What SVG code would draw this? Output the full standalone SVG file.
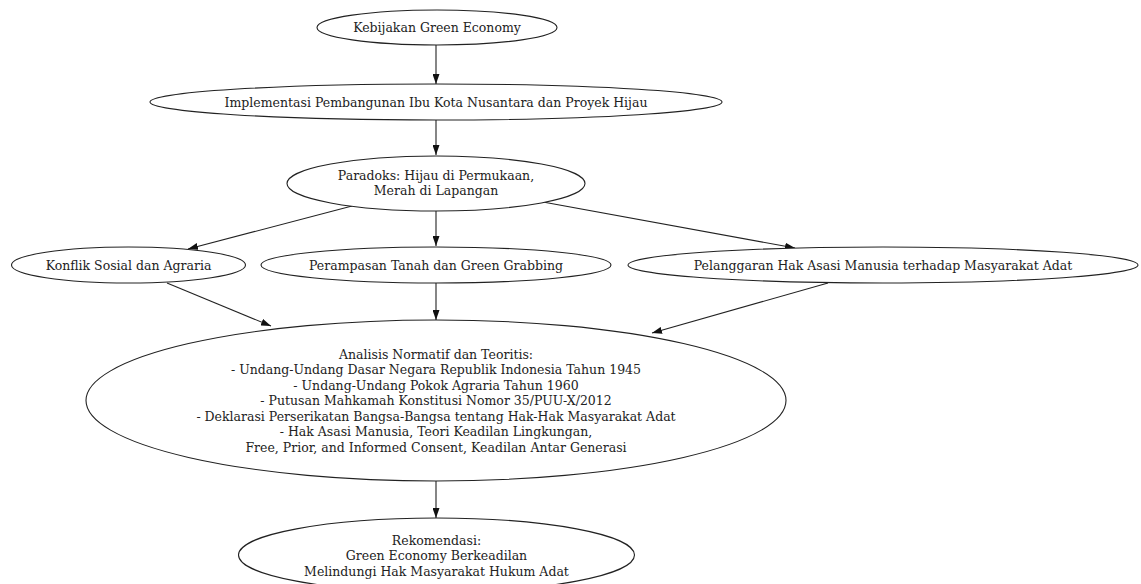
<svg xmlns="http://www.w3.org/2000/svg" width="1141" height="584" viewBox="0 0 1141 584">
<defs>
<style>
.n ellipse{fill:#fff;stroke:#222;stroke-width:1.1}
.n text{font-family:"DejaVu Serif","Liberation Serif",serif;font-size:12.5px;fill:#222;text-anchor:middle}
#edges path{fill:none;stroke:#222;stroke-width:1.1;marker-end:url(#ah)}
</style>
<marker id="ah" viewBox="0 0 10 7" refX="10" refY="3.5" markerWidth="10" markerHeight="7" markerUnits="userSpaceOnUse" orient="auto">
<path d="M0,0 L10,3.5 L0,7 Z" fill="#111"/>
</marker>
</defs>
<rect width="1141" height="584" fill="#fff"/>
<g id="edges">
<path d="M436,45 L436,84"/>
<path d="M436,120 L436,155"/>
<path d="M436,211 L436,246"/>
<path d="M352,206 L188,249"/>
<path d="M543,202 L795,248"/>
<path d="M167,283 L271,326"/>
<path d="M436,283 L436,320"/>
<path d="M828,283 L652,333"/>
<path d="M436,481 L436,518"/>
</g>
<g id="n1" class="n"><ellipse cx="437" cy="27.5" rx="120" ry="17.5"/><text x="437" y="32">Kebijakan Green Economy</text></g>
<g id="n2" class="n"><ellipse cx="436" cy="102" rx="286" ry="18"/><text x="436" y="106.5">Implementasi Pembangunan Ibu Kota Nusantara dan Proyek Hijau</text></g>
<g id="n3" class="n"><ellipse cx="436" cy="183.5" rx="149" ry="27.5"/><text x="436" y="180">Paradoks: Hijau di Permukaan,</text><text x="436" y="195">Merah di Lapangan</text></g>
<g id="n4" class="n"><ellipse cx="128.5" cy="265" rx="117" ry="18"/><text x="128.5" y="269.5">Konflik Sosial dan Agraria</text></g>
<g id="n5" class="n"><ellipse cx="436" cy="265" rx="175" ry="18"/><text x="436" y="269.5">Perampasan Tanah dan Green Grabbing</text></g>
<g id="n6" class="n"><ellipse cx="883" cy="265" rx="255" ry="18"/><text x="883" y="269.5">Pelanggaran Hak Asasi Manusia terhadap Masyarakat Adat</text></g>
<g id="n7" class="n"><ellipse cx="436" cy="400.5" rx="350" ry="80.5"/>
<text x="436" y="358.5">Analisis Normatif dan Teoritis:</text>
<text x="436" y="374">- Undang-Undang Dasar Negara Republik Indonesia Tahun 1945</text>
<text x="436" y="389.5">- Undang-Undang Pokok Agraria Tahun 1960</text>
<text x="436" y="405">- Putusan Mahkamah Konstitusi Nomor 35/PUU-X/2012</text>
<text x="436" y="420.5">- Deklarasi Perserikatan Bangsa-Bangsa tentang Hak-Hak Masyarakat Adat</text>
<text x="436" y="436">- Hak Asasi Manusia, Teori Keadilan Lingkungan,</text>
<text x="436" y="451.5">Free, Prior, and Informed Consent, Keadilan Antar Generasi</text>
</g>
<g id="n8" class="n"><ellipse cx="436.5" cy="555" rx="198" ry="37"/>
<text x="436.5" y="544.5">Rekomendasi:</text>
<text x="436.5" y="560">Green Economy Berkeadilan</text>
<text x="436.5" y="575.5">Melindungi Hak Masyarakat Hukum Adat</text>
</g>
</svg>
